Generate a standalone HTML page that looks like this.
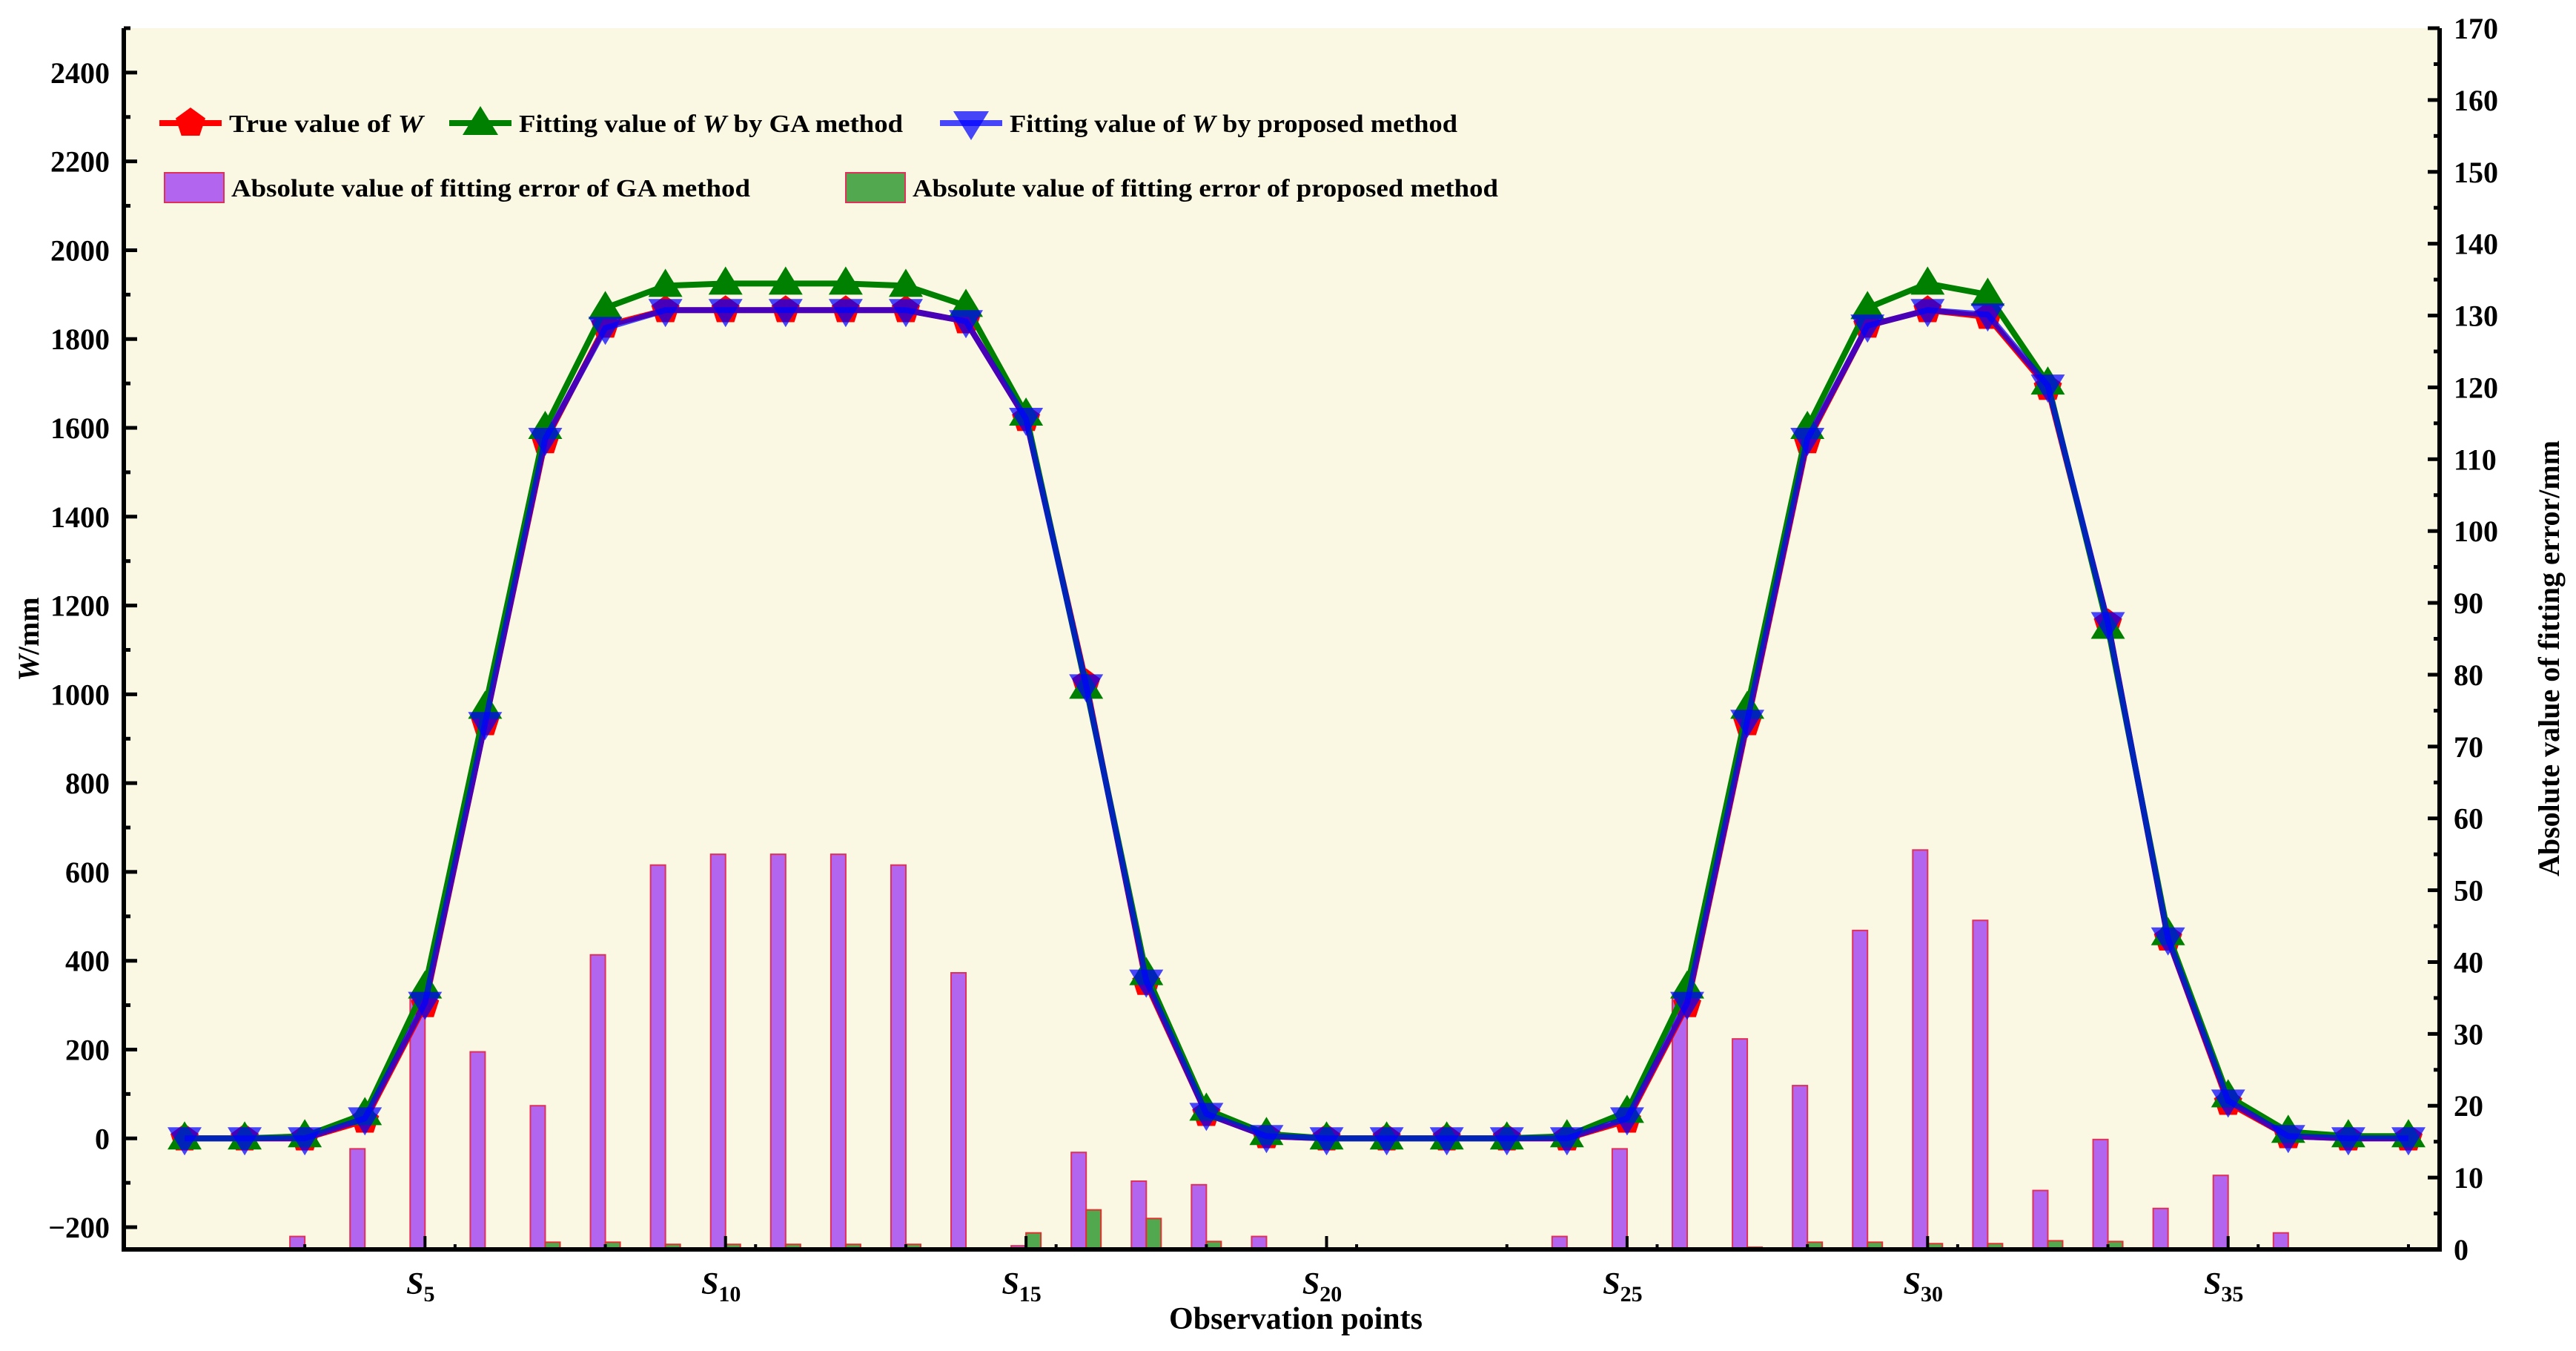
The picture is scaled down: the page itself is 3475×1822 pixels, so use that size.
<!DOCTYPE html>
<html><head><meta charset="utf-8"><style>
html,body{margin:0;padding:0;background:#fff;}
svg{display:block;font-family:"Liberation Serif",serif;font-weight:bold;}
</style></head><body>
<svg id="chart" width="3475" height="1822" viewBox="0 0 3475 1822" xmlns="http://www.w3.org/2000/svg">
<rect x="167" y="38" width="3124" height="1647" fill="#FAF8E3"/>
<g id="bars"></g>
<g id="lines"></g>
<g id="axes"></g>
<g id="legend"></g>
</svg>
<script>
const points = [1,2,3,4,5,6,7,8,9,10,11,12,13,14,15,16,17,18,19,20,21,22,23,24,25,26,27,28,29,30,31,32,33,34,35,36,37,38];
const trueW = [0,0,0,40,300,935,1570,1830,1865,1865,1865,1865,1865,1840,1620,1025,350,55,5,0,0,0,0,0,40,300,935,1570,1830,1865,1850,1690,1160,450,80,5,0,0];
const gaW = [0,0,5,55,340,970,1600,1870,1920,1925,1925,1925,1920,1875,1630,1015,370,65,10,0,0,0,0,5,60,340,970,1600,1870,1925,1900,1700,1150,460,95,15,5,5];
const propW = [0,0,0,45,305,935,1575,1825,1865,1865,1865,1865,1865,1840,1620,1020,355,55,5,0,0,0,0,0,45,305,940,1575,1830,1865,1855,1695,1160,450,85,5,0,0];
const gaErr = [0,0,1.8,14,35,27.5,20,41,53.5,55,55,55,53.5,38.5,0.5,13.5,9.5,9,1.8,0,0,0,0,1.8,14,35,29.3,22.8,44.4,55.6,45.8,8.2,15.3,5.7,10.3,2.3,0,0];
const propErr = [0,0,0,0,0,0.2,1,1,0.7,0.7,0.7,0.7,0.7,0.2,2.3,5.5,4.3,1.1,0,0,0,0,0,0,0,0,0.3,1,1,0.8,0.8,1.2,1.1,0.2,0,0,0,0];
const leftTicks = [-200,0,200,400,600,800,1000,1200,1400,1600,1800,2000,2200,2400];
const rightTicks = [0,10,20,30,40,50,60,70,80,90,100,110,120,130,140,150,160,170];
const xLabels = [5,10,15,20,25,30,35];

const NS="http://www.w3.org/2000/svg";
const X0=167,X1=3291,Y0=38,Y1=1685;
const xs = i => 249 + (i-1)*81.08;
const yL = v => Y1 - (v+250)/2750*(Y1-Y0);
const yR = v => Y1 - v/170*(Y1-Y0);
function mk(tag,attrs,parent){const e=document.createElementNS(NS,tag);for(const k in attrs)e.setAttribute(k,attrs[k]);parent.appendChild(e);return e;}
const gB=document.getElementById('bars'),gL=document.getElementById('lines'),gA=document.getElementById('axes'),gLg=document.getElementById('legend');

points.forEach((p,k)=>{
  if(gaErr[k]>0){
    const r=mk('rect',{x:xs(p)-20,y:yR(gaErr[k]),width:20,height:Y1-yR(gaErr[k]),fill:'#B266F0',stroke:'#E0305A','stroke-width':2},gB);
    
    
  }
  if(propErr[k]>0){
    const r=mk('rect',{x:xs(p),y:yR(propErr[k]),width:20,height:Y1-yR(propErr[k]),fill:'#52A84E',stroke:'#E03030','stroke-width':2},gB);
    
    
  }
});

function pent(cx,cy,s){let pts=[];for(let j=0;j<5;j++){const a=-Math.PI/2+j*2*Math.PI/5;pts.push((cx+s*Math.cos(a)).toFixed(1)+','+(cy+s*Math.sin(a)).toFixed(1));}return pts.join(' ');}
function triUp(cx,cy,s){return `${cx},${cy-s*1.15} ${cx-s*1.15},${cy+s*0.75} ${cx+s*1.15},${cy+s*0.75}`;}
function triDn(cx,cy,s){return `${cx},${cy+s*1.15} ${cx-s*1.15},${cy-s*0.75} ${cx+s*1.15},${cy-s*0.75}`;}

function series(vals,color,name,marker,op){
  const d=vals.map((v,k)=>(k?'L':'M')+xs(points[k]).toFixed(1)+','+yL(v).toFixed(1)).join(' ');
  const pth=mk('path',{d:d,fill:'none',stroke:color,'stroke-width':8,'stroke-linejoin':'round','stroke-opacity':op},gL);
  
  
  vals.forEach((v,k)=>{
    const m=mk('polygon',{points:marker(xs(points[k]),yL(v),20),fill:color,'fill-opacity':op},gL);
    
    
  });
}
series(trueW,'#FF0000','true-value',pent,1);
series(gaW,'#008000','ga-fit',triUp,1);
series(propW,'#0000FF','proposed-fit',triDn,0.72);

const ax=mk('path',{d:`M${X0},${Y0} L${X0},${Y1} L${X1},${Y1} L${X1},${Y0}`,fill:'none',stroke:'#000','stroke-width':6},gA);


for(let v=-200;v<=2500;v+=100){
  const maj=v%200===0;
  mk('line',{x1:X0,x2:X0+(maj?18:9),y1:yL(v),y2:yL(v),stroke:'#000','stroke-width':5},gA);
}
leftTicks.forEach(v=>{
  const t=mk('text',{x:148,y:yL(v)+14,'text-anchor':'end','font-size':40},gA);
  t.textContent=v<0?'\u2212'+Math.abs(v):String(v);
  
  
});
for(let v=0;v<=170;v+=5){
  const maj=v%10===0;
  mk('line',{x1:X1,x2:X1-(maj?16:8),y1:yR(v),y2:yR(v),stroke:'#000','stroke-width':5},gA);
}
rightTicks.forEach(v=>{
  const t=mk('text',{x:3310,y:yR(v)+14,'text-anchor':'start','font-size':40},gA);
  t.textContent=String(v);
  
  
});
for(let h=1;h<=76;h++){
  const i=h/2+0.5; if(i>38.6) break;
  const maj=(i%5===0);
  if(h%5!==0 && !maj) continue;
  mk('line',{x1:xs(i),x2:xs(i),y1:Y1,y2:Y1-(maj?18:7),stroke:'#000','stroke-width':4},gA);
}
xLabels.forEach(n=>{
  const t=mk('text',{x:xs(n)-6,y:1745,'text-anchor':'middle','font-size':42,'font-style':'italic'},gA);
  t.textContent='S';
  
  
  const s=mk('tspan',{dy:10,'font-size':30,'font-style':'normal'},t);
  s.textContent=String(n);
});
</script>
<script>
(function(){
const NS="http://www.w3.org/2000/svg";
const svg=document.getElementById('chart');
function mk(tag,attrs,parent){const e=document.createElementNS(NS,tag);for(const k in attrs)e.setAttribute(k,attrs[k]);parent.appendChild(e);return e;}
let t=mk('text',{x:1748,y:1792,'text-anchor':'middle','font-size':42},svg);
t.textContent='Observation points';


t=mk('text',{x:0,y:0,'text-anchor':'middle','font-size':40,transform:'translate(52,862) rotate(-90)'},svg);
t.innerHTML='<tspan font-style="italic">W</tspan>/mm';


t=mk('text',{x:0,y:0,'text-anchor':'middle','font-size':40,transform:'translate(3452,888) rotate(-90)'},svg);
t.textContent='Absolute value of fitting error/mm';


})();
</script>
<script>
(function(){
const NS="http://www.w3.org/2000/svg";
function mk(tag,attrs,parent){const e=document.createElementNS(NS,tag);for(const k in attrs)e.setAttribute(k,attrs[k]);parent.appendChild(e);return e;}
const g=document.getElementById('legend');
function pent(cx,cy,s){let p=[];for(let j=0;j<5;j++){const a=-Math.PI/2+j*2*Math.PI/5;p.push((cx+s*Math.cos(a)).toFixed(1)+','+(cy+s*Math.sin(a)).toFixed(1));}return p.join(' ');}
function entry(x,y,color,poly,html,w,name,op){
  const e=mk('g',{},g);
  
  
  mk('line',{x1:x-42,x2:x+42,y1:y,y2:y,stroke:color,'stroke-width':8,'stroke-opacity':op},e);
  mk('polygon',{points:poly,fill:color,'fill-opacity':op},e);
  const t=mk('text',{x:x+52,y:y+12,'font-size':34,textLength:w,lengthAdjust:'spacingAndGlyphs'},e);
  t.innerHTML=html;
}
entry(257,166,'#FF0000',pent(257,166,21),'True value of <tspan font-style="italic">W</tspan>',262,'legend-true-value',1);
entry(648,166,'#008000','648,143 624,182 672,182','Fitting value of <tspan font-style="italic">W</tspan> by GA method',518,'legend-ga-fit',1);
entry(1310,166,'#0000FF','1310,189 1286,150 1334,150','Fitting value of <tspan font-style="italic">W</tspan> by proposed method',604,'legend-proposed-fit',0.72);
function boxEntry(x,y,fill,text,w,name){
  const e=mk('g',{},g);
  
  
  mk('rect',{x:x,y:y-20,width:80,height:40,fill:fill,stroke:'#E0305A','stroke-width':2},e);
  const t=mk('text',{x:x+90,y:y+12,'font-size':34,textLength:w,lengthAdjust:'spacingAndGlyphs'},e);
  t.textContent=text;
}
boxEntry(222,253,'#B266F0','Absolute value of fitting error of GA method',700,'legend-ga-error');
boxEntry(1141,253,'#52A84E','Absolute value of fitting error of proposed method',790,'legend-proposed-error');
})();
</script>
</body></html>
